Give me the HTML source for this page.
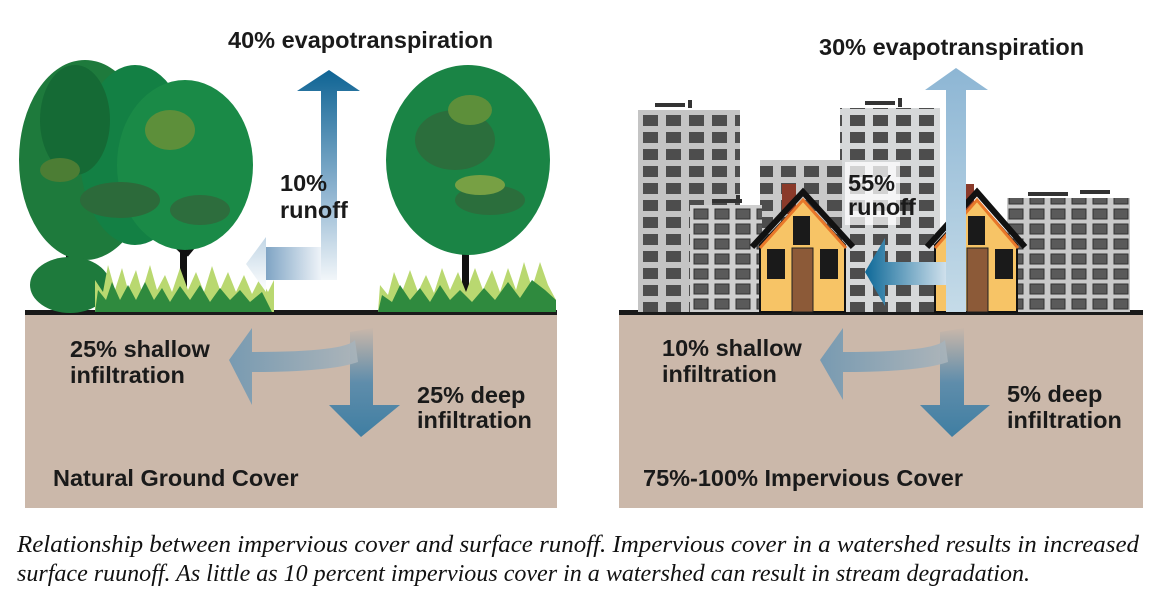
<!DOCTYPE html>
<html><head><meta charset="utf-8"><style>
body{margin:0;background:#fff;width:1174px;height:607px;overflow:hidden}
svg{display:block}
.t{font-family:"Liberation Sans",sans-serif;font-weight:bold;font-size:23.5px;fill:#1a1a1a}
.c{font-family:"Liberation Serif",serif;font-style:italic;font-size:24px;fill:#111}
</style></head><body>
<svg width="1174" height="607" viewBox="0 0 1174 607">
<defs>
<linearGradient id="ev" x1="0" y1="0" x2="0" y2="1"><stop offset="0" stop-color="#0f6494"/><stop offset="0.55" stop-color="#8fb4d0"/><stop offset="1" stop-color="#fff"/></linearGradient>
<linearGradient id="ro" x1="0" y1="0" x2="1" y2="0"><stop offset="0" stop-color="#7fa4c4"/><stop offset="1" stop-color="#eef3f8"/></linearGradient>
<linearGradient id="ev2" x1="0" y1="0" x2="0" y2="1"><stop offset="0" stop-color="#8db6d4"/><stop offset="1" stop-color="#c5dbe8"/></linearGradient>
<linearGradient id="ro2" x1="0" y1="0" x2="1" y2="0"><stop offset="0" stop-color="#0e6998"/><stop offset="1" stop-color="#cfe0ec"/></linearGradient>
<linearGradient id="ug" x1="0" y1="0" x2="0" y2="1"><stop offset="0" stop-color="#c9b7aa"/><stop offset="0.5" stop-color="#5f8dab"/><stop offset="1" stop-color="#3f7ea2"/></linearGradient>
<linearGradient id="ugl" x1="0" y1="0" x2="1" y2="0"><stop offset="0" stop-color="#6f97b2"/><stop offset="1" stop-color="#a9b4bb"/></linearGradient>
<pattern id="win" x="638" y="110" width="23" height="17" patternUnits="userSpaceOnUse"><rect x="5" y="5" width="15" height="11" fill="#4d4d4d"/></pattern>
<pattern id="win2" x="690" y="205" width="21" height="15" patternUnits="userSpaceOnUse"><rect x="4" y="4" width="14" height="10" fill="#5a5a5a" stroke="#333" stroke-width="1"/></pattern>
</defs>

<rect x="25" y="313" width="532" height="195" fill="#cbb8aa"/>
<rect x="25" y="310" width="532" height="5" fill="#1a1a1a"/>
<rect x="619" y="313" width="524" height="195" fill="#cbb8aa"/>
<rect x="619" y="310" width="524" height="5" fill="#1a1a1a"/>

<g>
<rect x="66" y="230" width="7" height="82" fill="#111"/>
<rect x="180" y="240" width="7" height="72" fill="#111"/>
<rect x="462" y="230" width="7" height="82" fill="#111"/>
<path d="M72 245 L95 225 M186 255 L165 235 M186 255 L205 232 M466 248 L485 225 M466 248 L448 232" stroke="#111" stroke-width="5"/>
<path d="M72 240 L85 225 M190 248 L200 235 M470 240 L480 225" stroke="#9a4a3a" stroke-width="4"/>
<ellipse cx="85" cy="160" rx="66" ry="100" fill="#1e7a3c"/>
<ellipse cx="135" cy="155" rx="55" ry="90" fill="#138044"/>
<ellipse cx="185" cy="165" rx="68" ry="85" fill="#1a8a47"/>
<ellipse cx="75" cy="120" rx="35" ry="55" fill="#156a35"/>
<ellipse cx="170" cy="130" rx="25" ry="20" fill="#5d8f3a"/>
<ellipse cx="60" cy="170" rx="20" ry="12" fill="#4c7d34"/>
<ellipse cx="120" cy="200" rx="40" ry="18" fill="#2c6a3a"/>
<ellipse cx="200" cy="210" rx="30" ry="15" fill="#2d6d3d"/>
<ellipse cx="468" cy="160" rx="82" ry="95" fill="#1a8445"/>
<ellipse cx="455" cy="140" rx="40" ry="30" fill="#2b6e3c"/>
<ellipse cx="490" cy="200" rx="35" ry="15" fill="#2b6e3c"/>
<ellipse cx="470" cy="110" rx="22" ry="15" fill="#5d8f3a"/>
<ellipse cx="480" cy="185" rx="25" ry="10" fill="#77a044"/>
<ellipse cx="70" cy="285" rx="40" ry="28" fill="#1e7a3c"/>
</g>
<path d="M95 312 L95 280 L103 292 L108 265 L115 290 L122 268 L128 290 L136 270 L142 292 L150 265 L157 290 L165 275 L172 292 L180 268 L188 290 L196 272 L204 292 L212 266 L220 290 L228 272 L236 292 L244 275 L252 294 L260 278 L268 292 L274 280 L274 312Z" fill="#b9d870"/>
<path d="M95 312 L98 290 L106 300 L112 282 L120 300 L128 285 L136 300 L145 282 L154 300 L162 288 L170 302 L180 286 L190 300 L200 285 L210 302 L220 288 L230 300 L240 290 L250 302 L262 292 L272 312Z" fill="#2f8a3e"/>
<path d="M378 312 L380 285 L388 295 L394 272 L402 292 L410 270 L418 292 L426 275 L434 293 L442 268 L450 290 L458 272 L466 292 L475 268 L483 290 L492 270 L500 292 L508 268 L516 290 L524 262 L532 288 L540 262 L548 285 L556 300 L556 312Z" fill="#b9d870"/>
<path d="M378 312 L382 295 L392 302 L400 285 L410 300 L420 288 L430 302 L440 285 L450 300 L460 290 L472 302 L484 288 L495 300 L508 282 L520 298 L532 280 L545 290 L556 300 L556 312Z" fill="#2f8a3e"/>

<path d="M321 91 L297 91 L329 70 L360 91 L337 91 L337 280 L266 280 L266 292 L246 264 L266 237 L266 247 L321 247 Z" fill="url(#ev)"/>
<path d="M266 247 L321 247 L321 280 L266 280Z" fill="url(#ro)"/>

<path d="M350 332 L373 328 L373 405 L400 405 L361 437 L329 405 L350 405 Z" fill="url(#ug)"/>
<path d="M355 340 Q345 352 252 352 L252 328 L229 360 L252 405 L252 372 Q330 372 358 362 Z" fill="url(#ugl)" opacity="0.9"/>

<rect x="638" y="110" width="102" height="202" fill="#c4c4c4"/>
<rect x="638" y="110" width="102" height="202" fill="url(#win)"/>
<rect x="655" y="103" width="30" height="4" fill="#333"/><rect x="688" y="100" width="4" height="8" fill="#333"/>
<rect x="840" y="108" width="100" height="204" fill="#d6d8d9"/>
<rect x="840" y="108" width="100" height="204" fill="url(#win)"/>
<rect x="865" y="101" width="30" height="4" fill="#333"/><rect x="898" y="98" width="4" height="9" fill="#333"/>
<rect x="760" y="160" width="82" height="152" fill="#c9c9c9"/>
<rect x="760" y="160" width="82" height="152" fill="url(#win)"/>
<rect x="690" y="205" width="72" height="107" fill="#cfcfcf"/>
<rect x="690" y="205" width="72" height="107" fill="url(#win2)"/>
<rect x="712" y="199" width="30" height="4" fill="#333"/><rect x="736" y="195" width="4" height="8" fill="#333"/>
<rect x="1007" y="198" width="123" height="114" fill="#c9c9c9"/>
<rect x="1007" y="198" width="123" height="114" fill="url(#win2)"/>
<rect x="1028" y="192" width="40" height="4" fill="#333"/><rect x="1080" y="190" width="30" height="4" fill="#333"/>
<rect x="845" y="162" width="55" height="63" fill="#fff" opacity="0.75"/>

<g>
<rect x="782" y="184" width="14" height="30" fill="#8a3a2a"/>
<path d="M760 245 L760 312 L845 312 L845 245 L803 200Z" fill="#f7c466" stroke="#111" stroke-width="2"/>
<path d="M752 247 L803 192 L853 247" fill="none" stroke="#111" stroke-width="6"/>
<path d="M760 248 L803 200 L846 248" fill="none" stroke="#e8772a" stroke-width="3"/>
<rect x="793" y="216" width="17" height="29" fill="#1a1a1a"/>
<rect x="767" y="249" width="18" height="30" fill="#1a1a1a"/><rect x="820" y="249" width="18" height="30" fill="#1a1a1a"/>
<rect x="792" y="248" width="21" height="64" fill="#8c5a38" stroke="#222"/>
</g>
<g>
<rect x="964" y="184" width="10" height="30" fill="#8a3a2a"/>
<path d="M935 245 L935 312 L1017 312 L1017 245 L977 200Z" fill="#f7c466" stroke="#111" stroke-width="2"/>
<path d="M927 247 L977 192 L1025 247" fill="none" stroke="#111" stroke-width="6"/>
<path d="M935 248 L977 200 L1018 248" fill="none" stroke="#e8772a" stroke-width="3"/>
<rect x="968" y="216" width="17" height="29" fill="#1a1a1a"/>
<rect x="995" y="249" width="18" height="30" fill="#1a1a1a"/>
<rect x="967" y="248" width="21" height="64" fill="#8c5a38" stroke="#222"/>
</g>

<path d="M946 312 L946 90 L925 90 L956 68 L988 90 L966 90 L966 312Z" fill="url(#ev2)"/>
<path d="M946 262 L885 262 L885 238 L865 272 L885 306 L885 285 L946 285Z" fill="url(#ro2)"/>
<path d="M940 332 L964 328 L964 405 L990 405 L952 437 L920 405 L940 405 Z" fill="url(#ug)"/>
<path d="M945 340 Q935 352 843 352 L843 328 L820 360 L843 400 L843 372 Q920 372 948 362 Z" fill="url(#ugl)" opacity="0.9"/>

<text class="t" x="228" y="48">40% evapotranspiration</text>
<text class="t" x="280" y="191">10%</text><text class="t" x="280" y="218">runoff</text>
<text class="t" x="70" y="357">25% shallow</text><text class="t" x="70" y="383">infiltration</text>
<text class="t" x="417" y="403">25% deep</text><text class="t" x="417" y="428">infiltration</text>
<text class="t" x="53" y="486">Natural Ground Cover</text>
<text class="t" x="819" y="55">30% evapotranspiration</text>
<text class="t" x="848" y="191">55%</text><text class="t" x="848" y="215">runoff</text>
<text class="t" x="662" y="356">10% shallow</text><text class="t" x="662" y="382">infiltration</text>
<text class="t" x="1007" y="402">5% deep</text><text class="t" x="1007" y="428">infiltration</text>
<text class="t" x="643" y="486">75%-100% Impervious Cover</text>

<text class="c" x="17" y="552" textLength="1122" lengthAdjust="spacingAndGlyphs">Relationship between impervious cover and surface runoff. Impervious cover in a watershed results in increased</text>
<text class="c" x="17" y="581" textLength="1013" lengthAdjust="spacingAndGlyphs">surface ruunoff. As little as 10 percent impervious cover in a watershed can result in stream degradation.</text>
</svg>
</body></html>
